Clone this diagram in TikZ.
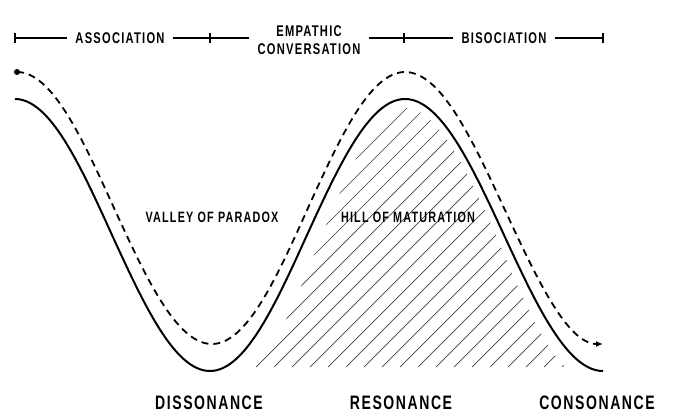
\documentclass[tikz,border=0pt]{standalone}
\usepackage{fontspec}
\newfontfamily\labelfont{Liberation Sans}[FakeStretch=0.72,LetterSpace=8]
\usetikzlibrary{arrows.meta, positioning}

\begin{document}
\begin{tikzpicture}[
            x=1pt, y=-1pt,
            >={Latex[width=6pt,length=7pt]},
                base/.style = {inner sep=0pt, align=center,
                            font=\labelfont\bfseries},
                phase/.style = {base, inner xsep=8pt,
                            font=\labelfont\bfseries\fontsize{15.5}{18.5}\selectfont},
                region/.style = {base, font=\labelfont\bfseries\fontsize{15}{18}\selectfont},
                state/.style = {base, font=\labelfont\bfseries\fontsize{19.5}{23}\selectfont},
                timeline/.style = {line width=1.3pt},
                curve/.style = {line width=2pt},
                route/.style = {line width=1.8pt, dash pattern=on 7pt off 5pt},
                hatchline/.style = {line width=0.7pt, black!75}]
            \useasboundingbox (0,0) rectangle (680,417);
            % time line
            \coordinate (t1) at (15,38);
            \coordinate (t2) at (210,38);
            \coordinate (t3) at (404,38);
            \coordinate (t4) at (603,38);
            \node (association) [phase] at (120,38) {ASSOCIATION};
            \node (empathic) [phase] at (309,40) {EMPATHIC\\CONVERSATION};
            \node (bisociation) [phase] at (504,38) {BISOCIATION};
            \draw[timeline] (t1) -- (association);
            \draw[timeline] (association) -- (t2) -- (t2 -| empathic.west);
            \draw[timeline] (t3 -| empathic.east) -- (t3) -- (bisociation);
            \draw[timeline] (bisociation) -- (t4);
            \foreach \t in {t1,t2,t3,t4}
                \draw[timeline] ([yshift=-5pt]\t) -- ([yshift=5pt]\t);
            % hatched hill
            \begin{scope}
                \clip (0,0) rectangle (680,367);
                \clip (232,379) cos (322,235) sin (405,108) cos (496,235) sin (590,379) -- cycle;
                \foreach \k in {-8,...,20}
                    \draw[hatchline] ({623+18*\k-367},367) -- ({623+18*\k-100},100);
            \end{scope}
            % curves
            \coordinate (high) at (15,99);
            \coordinate (low) at (603,371);
            \draw[curve] (high) cos (112,235) sin (210,371) cos (307,235)
                sin (405,99) cos (504,235) sin (low);
            \node (startdot) [circle, fill, inner sep=0pt, minimum size=6pt] at (17,72) {};
            \coordinate (finish) at (603,344);
            \draw[route, ->] (startdot.center) cos (114,208) sin (212,344) cos (308,208)
                sin (405,72) cos (504,208) sin (finish);
            % labels
            \node (valley) [region] at (212,217) {VALLEY OF PARADOX};
            \node (hill) [region] at (408,217) {HILL OF MATURATION};
            \node (dissonance) [state] at (209,403) {DISSONANCE};
            \node (resonance) [state] at (401,403) {RESONANCE};
            \node (consonance) [state] at (597,403) {CONSONANCE};
        \end{tikzpicture}
\end{document}
